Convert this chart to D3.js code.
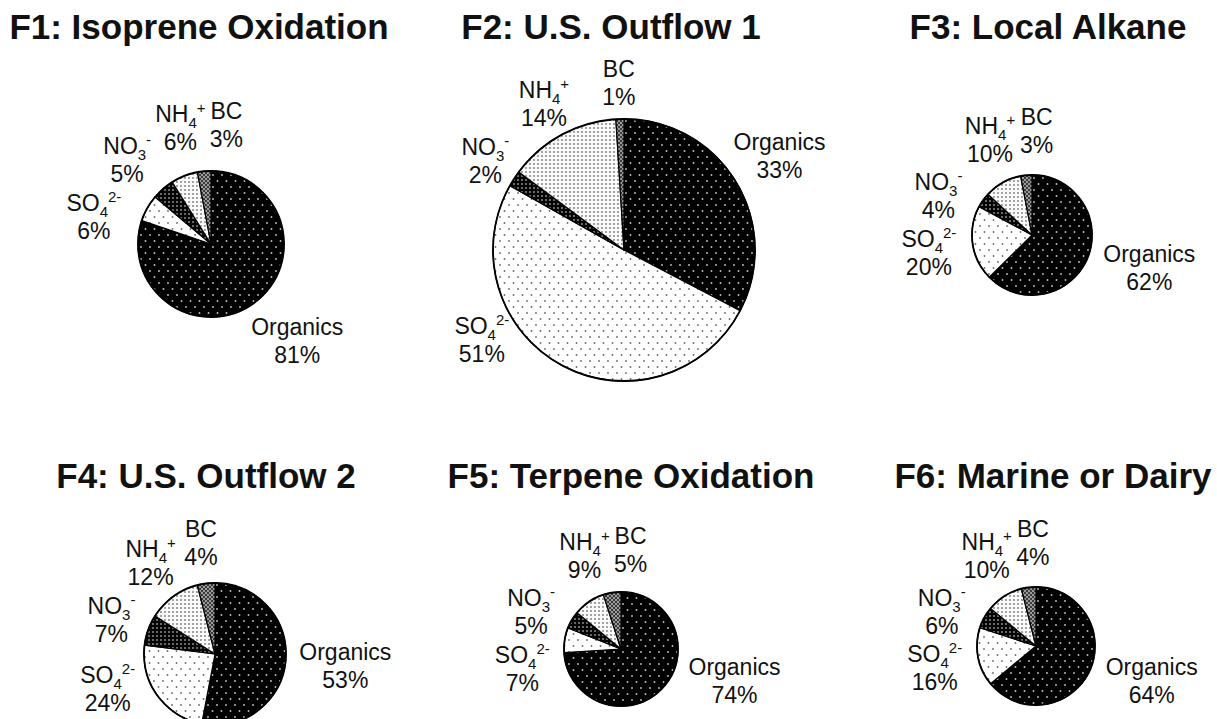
<!DOCTYPE html>
<html lang="en">
<head>
<meta charset="UTF-8">
<title>Factor composition</title>
<style>
  body { margin: 0; background: #fff; }
  text { font-family: "Liberation Sans", Arial, sans-serif; fill: #111; }
</style>
</head>
<body>
<svg id="svg" width="1217" height="719"></svg>
<script src="https://cdn.jsdelivr.net/npm/d3@7"></script>
<script>
// data: percent of each species in each factor
const factors = ['F1: Isoprene Oxidation', 'F2: U.S. Outflow 1', 'F3: Local Alkane',
                 'F4: U.S. Outflow 2', 'F5: Terpene Oxidation', 'F6: Marine or Dairy'];
const species = ['Organics', 'SO4', 'NO3', 'NH4', 'BC'];
const organics    = [81, 33, 62, 53, 74, 64];
const sulfate     = [6, 51, 20, 24, 7, 16];
const nitrate     = [5, 2, 4, 7, 5, 6];
const ammonium    = [6, 14, 10, 12, 9, 10];
const blackCarbon = [3, 1, 3, 4, 5, 4];

// layout of the six panels
const pieX = [211, 624, 1032, 215, 621, 1036];
const pieY = [244, 250, 235, 654, 649, 646];
const pieR = [73, 131, 60, 71, 57, 59];
const titleX = [199, 611, 1048, 206, 631, 1053];
const titleY = [39, 39, 39, 488, 488, 488];
const labelFloor = [368, 368, 296, 716, 708, 708];
const labelGap = [20, 9, 17, 14, 16, 17];
const padX = 4, padY = 0;

// label text pieces (chemical formulas with sub/superscripts)
const nameParts = {
  Organics: [['Organics', 'n']],
  SO4: [['SO', 'n'], ['4', 'sub'], ['2-', 'sup']],
  NO3: [['NO', 'n'], ['3', 'sub'], ['-', 'sup']],
  NH4: [['NH', 'n'], ['4', 'sub'], ['+', 'sup']],
  BC: [['BC', 'n']]
};
const shiftOf = { n: 0, sub: 6, sup: -9 };

const svg = d3.select('#svg');
const defs = svg.append('defs');

// fill patterns
function dotPattern(id, w, h, bg, dots, color, rad) {
  const p = defs.append('pattern').attr('id', id)
    .attr('patternUnits', 'userSpaceOnUse').attr('width', w).attr('height', h);
  p.append('rect').attr('width', w).attr('height', h).attr('fill', bg);
  dots.forEach(d => p.append('circle').attr('cx', d[0]).attr('cy', d[1]).attr('r', rad).attr('fill', color));
}
dotPattern('p-org', 9, 12, '#000', [[2, 3], [6.5, 9]], '#c0c0c0', 0.95);
dotPattern('p-so4', 9, 12, '#fff', [[2, 3], [6.5, 9]], '#6a6a6a', 0.9);
dotPattern('p-no3', 4, 4, '#050505', [[2, 2]], '#8a8a8a', 1.0);
dotPattern('p-nh4', 4, 4, '#fafafa', [[2, 2]], '#8c8c8c', 1.05);
dotPattern('p-bc', 4, 4, '#3a3a3a', [[1, 1], [3, 3]], '#c4c4c4', 0.95);

const fill = d3.scaleOrdinal()
  .domain(species)
  .range(['url(#p-org)', 'url(#p-so4)', 'url(#p-no3)', 'url(#p-nh4)', 'url(#p-bc)']);

const pie = d3.pie().sort(null).value(d => d.value);

factors.forEach((title, i) => {
  const values = [organics[i], sulfate[i], nitrate[i], ammonium[i], blackCarbon[i]];
  const rows = species.map((s, k) => ({ name: s, value: values[k] }));
  const arcs = pie(rows);
  const r = pieR[i];
  const arc = d3.arc().innerRadius(0).outerRadius(r);

  svg.append('text')
    .attr('x', titleX[i]).attr('y', titleY[i])
    .attr('text-anchor', 'middle')
    .style('font-size', '35px').style('font-weight', 'bold')
    .text(title);

  const g = svg.append('g').attr('transform', `translate(${pieX[i]},${pieY[i]})`);

  g.selectAll('path.slice')
    .data(arcs)
    .enter()
    .append('path')
    .attr('class', 'slice')
    .attr('d', arc)
    .attr('fill', d => fill(d.data.name))
    .attr('stroke', '#000')
    .attr('stroke-width', 1.2)
    .attr('stroke-linejoin', 'round');

  g.append('circle').attr('r', r).attr('fill', 'none')
    .attr('stroke', '#000').attr('stroke-width', 1.8);

  // labels: build, measure, then place outside the pie
  const labels = arcs.map(a => {
    const lg = g.append('g');
    const t1 = lg.append('text').attr('text-anchor', 'middle').style('font-size', '23px');
    let cur = 0;
    nameParts[a.data.name].forEach(([txt, kind]) => {
      const ts = t1.append('tspan').text(txt).attr('dy', shiftOf[kind] - cur);
      if (kind !== 'n') ts.style('font-size', '15px');
      cur = shiftOf[kind];
    });
    lg.append('text').attr('text-anchor', 'middle').attr('y', 28)
      .style('font-size', '23px').text(a.data.value + '%');
    const bb = lg.node().getBBox();
    return { lg, bb, theta: (a.startAngle + a.endAngle) / 2 };
  });

  const pos = (L) => {
    const s = Math.sin(L.theta), c = Math.cos(L.theta);
    const d = r + labelGap[i] + Math.hypot(s * L.bb.width / 2, c * L.bb.height / 2);
    return [s * d, -c * d];
  };
  const box = (L) => {
    const [x, y] = pos(L);
    return { x0: x - L.bb.width / 2, x1: x + L.bb.width / 2, y0: y - L.bb.height / 2, y1: y + L.bb.height / 2 };
  };
  const hits = (a, b) => a.x0 < b.x1 + padX && b.x0 < a.x1 + padX &&
                         a.y0 < b.y1 + padY && b.y0 < a.y1 + padY;
  const clamp = (L) => {
    let n = 0;
    while (pieY[i] + pos(L)[1] + L.bb.height / 2 > labelFloor[i] && n < 400) {
      L.theta += (L.theta < Math.PI ? -1 : 1) * Math.PI / 360;
      n++;
    }
  };
  labels.forEach(clamp);

  // push crowded neighbours apart along the circle
  const sorted = labels.slice().sort((a, b) => a.theta - b.theta);
  const step = Math.PI / 720;
  for (let it = 0; it < 800; it++) {
    let moved = false;
    for (let k = 1; k < sorted.length; k++) {
      if (hits(box(sorted[k - 1]), box(sorted[k]))) {
        sorted[k - 1].theta -= step;
        sorted[k].theta += step;
        moved = true;
      }
    }
    if (!moved) break;
  }
  labels.forEach(clamp);

  labels.forEach(L => {
    const [x, y] = pos(L);
    const ox = L.bb.x + L.bb.width / 2, oy = L.bb.y + L.bb.height / 2;
    L.lg.attr('transform', `translate(${x - ox},${y - oy})`);
  });
});
</script>
</body>
</html>
